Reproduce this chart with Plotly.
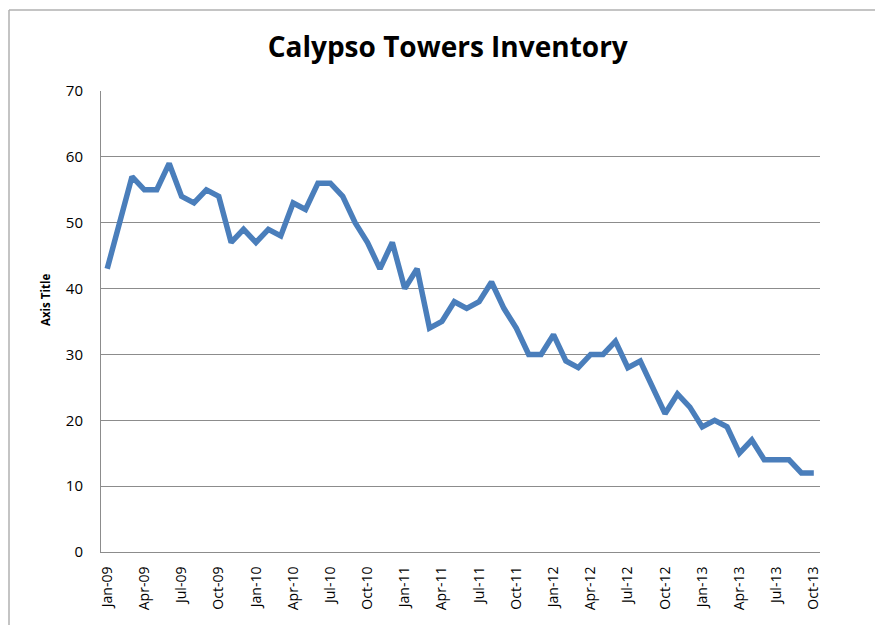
import plotly.graph_objects as go

months = [
    "Jan-09", "Feb-09", "Mar-09", "Apr-09", "May-09", "Jun-09", "Jul-09", "Aug-09", "Sep-09", "Oct-09", "Nov-09", "Dec-09",
    "Jan-10", "Feb-10", "Mar-10", "Apr-10", "May-10", "Jun-10", "Jul-10", "Aug-10", "Sep-10", "Oct-10", "Nov-10", "Dec-10",
    "Jan-11", "Feb-11", "Mar-11", "Apr-11", "May-11", "Jun-11", "Jul-11", "Aug-11", "Sep-11", "Oct-11", "Nov-11", "Dec-11",
    "Jan-12", "Feb-12", "Mar-12", "Apr-12", "May-12", "Jun-12", "Jul-12", "Aug-12", "Sep-12", "Oct-12", "Nov-12", "Dec-12",
    "Jan-13", "Feb-13", "Mar-13", "Apr-13", "May-13", "Jun-13", "Jul-13", "Aug-13", "Sep-13", "Oct-13",
]

inventory = [
    43, 50, 57, 55, 55, 59, 54, 53, 55, 54, 47, 49,
    47, 49, 48, 53, 52, 56, 56, 54, 50, 47, 43, 47,
    40, 43, 34, 35, 38, 37, 38, 41, 37, 34, 30, 30,
    33, 29, 28, 30, 30, 32, 28, 29, 25, 21, 24, 22,
    19, 20, 19, 15, 17, 14, 14, 14, 12, 12,
]

tick_labels = [
    "Jan-09", "Apr-09", "Jul-09", "Oct-09", "Jan-10", "Apr-10", "Jul-10", "Oct-10",
    "Jan-11", "Apr-11", "Jul-11", "Oct-11", "Jan-12", "Apr-12", "Jul-12", "Oct-12",
    "Jan-13", "Apr-13", "Jul-13", "Oct-13",
]

y_ticks = [0, 10, 20, 30, 40, 50, 60, 70]

fig = go.Figure()
fig.add_trace(go.Scatter(
    x=months, y=inventory, mode="lines",
    line=dict(color="#4a7ebb", width=5.5),
    hoverinfo="x+y", showlegend=False,
))

font_family = "Open Sans, Liberation Sans, sans-serif"

L, R, T, B = 93, 71, 83, 81
PW, PH = 883 - L - R, 625 - T - B

fig.update_layout(
    width=883, height=625,
    margin=dict(l=L, r=R, t=T, b=B),
    paper_bgcolor="white", plot_bgcolor="white",
    title=dict(
        text="<b>Calypso Towers Inventory</b>",
        x=0.498, xanchor="center", y=0.937, yanchor="middle",
        font=dict(family=font_family, size=28, color="black"),
    ),
    xaxis=dict(
        type="category", categoryorder="array", categoryarray=months,
        range=[-0.5, len(months) - 0.5],
        tickmode="array", tickvals=tick_labels, ticktext=tick_labels,
        tickangle=-90, showgrid=False, zeroline=False,
        showline=True, linecolor="#8c8c8c", linewidth=1,
        ticks="", ticklen=0, ticklabelstandoff=8,
        tickfont=dict(family=font_family, size=14, color="black"),
    ),
    yaxis=dict(
        range=[0, 70], tickmode="array", tickvals=y_ticks,
        showgrid=True, gridcolor="#8c8c8c", gridwidth=1,
        zeroline=False, showline=True, linecolor="#8c8c8c", linewidth=1,
        ticks="", ticklen=0, ticklabelstandoff=14,
        tickfont=dict(family=font_family, size=15, color="black"),
    ),
    annotations=[
        dict(text="<b>Axis Title</b>", xref="paper", yref="paper",
             x=(37 - L) / PW, y=(625 - B - 300 + 8) / PH,
             xanchor="center", yanchor="middle", textangle=-90, showarrow=False,
             font=dict(family=font_family, size=11.5, color="black")),
    ],
    shapes=[
        dict(type="line", xref="paper", yref="paper",
             x0=-(L - 1) / PW, x1=1 + R / PW, y0=1 + (T - 2) / PH, y1=1 + (T - 2) / PH,
             line=dict(color="#b0b0b0", width=1.5)),
        dict(type="line", xref="paper", yref="paper",
             x0=-(L - 1) / PW, x1=-(L - 1) / PW, y0=1 + (T - 2) / PH, y1=-B / PH,
             line=dict(color="#b0b0b0", width=1.5)),
    ],
)

fig.write_html("out.html")
